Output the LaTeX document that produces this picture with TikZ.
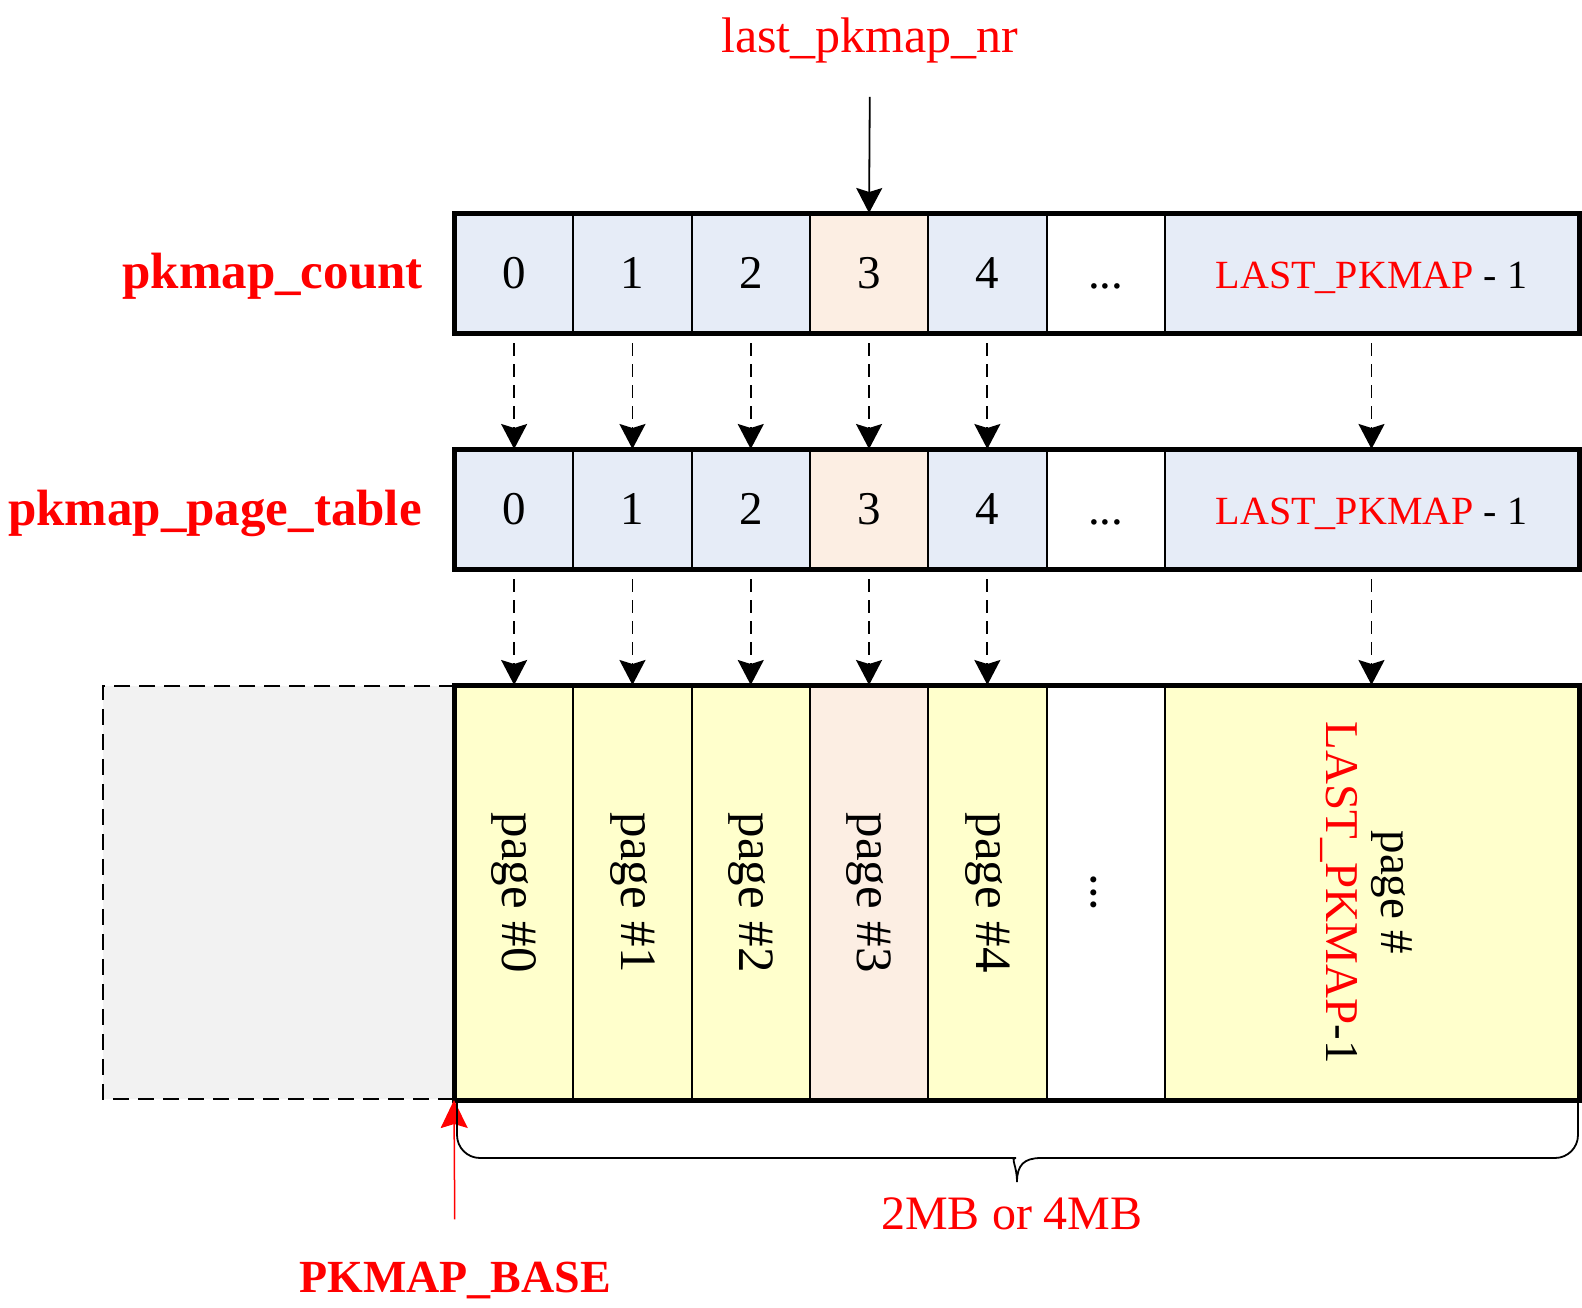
\documentclass[tikz,border=0pt]{standalone}
\usepackage{fontspec}
\setmainfont{Liberation Serif}
\usetikzlibrary{arrows.meta}

\definecolor{celdaazul}{HTML}{E6ECF7}
\definecolor{celdanaranja}{HTML}{FCEEE3}
\definecolor{celdaamarilla}{HTML}{FFFFCC}
\definecolor{zonagris}{HTML}{F2F2F2}

\begin{document}
\begin{tikzpicture}[x=1pt,y=-1pt,
    celda/.style={draw, line width=2pt, minimum width=118.3pt, minimum height=118pt,
        inner sep=0pt, text height=31pt, text depth=0pt, font=\fontsize{47}{55}\selectfont},
    pagina/.style={draw, line width=2pt, minimum width=118.3pt, minimum height=413pt, inner sep=0pt},
    vtexto/.style={rotate=-90, inner sep=0pt, align=center, font=\fontsize{51}{56}\selectfont},
    rotulo/.style={inner sep=0pt, text=red, font=\bfseries\fontsize{51}{60}\selectfont},
    punta/.style={-{Stealth[length=25pt,width=26pt,inset=4pt]}},
    flechapunteada/.style={punta, dash pattern=on 13pt off 8pt, line width=1.8pt, shorten <=10pt}]

    \useasboundingbox (0,0) rectangle (1582,1307);

    % Filas pkmap_count y pkmap_page_table
    \foreach \i/\col in {0/celdaazul,1/celdaazul,2/celdaazul,3/celdanaranja,4/celdaazul} {
        \node[celda, fill=\col] (c\i) at ({514.15+118.3*\i},273) {\i};
        \node[celda, fill=\col] (m\i) at ({514.15+118.3*\i},509) {\i};
    }
    \node[celda, fill=white] (c5) at (1105.65,273) {...};
    \node[celda, fill=white] (m5) at (1105.65,509) {...};
    \node[celda, fill=celdaazul, minimum width=413pt] (cl) at (1371.5,273)
        {\fontsize{40}{48}\selectfont\textcolor{red}{LAST\_PKMAP} - 1};
    \node[celda, fill=celdaazul, minimum width=413pt] (ml) at (1371.5,509)
        {\fontsize{40}{48}\selectfont\textcolor{red}{LAST\_PKMAP} - 1};

    % Zona gris a la izquierda
    \fill[zonagris] (103,686) rectangle (455,1099);
    \draw[dash pattern=on 16pt off 9pt, line width=1.8pt] (455,686) -- (103,686) -- (103,1099) -- (455,1099);

    % Paginas
    \foreach \i/\col in {0/celdaamarilla,1/celdaamarilla,2/celdaamarilla,3/celdanaranja,4/celdaamarilla} {
        \node[pagina, fill=\col] (b\i) at ({514.15+118.3*\i},892.5) {};
        \node[vtexto] (t\i) at (b\i) {page \#\i};
    }
    \node[pagina, fill=white] (b5) at (1105.65,892.5) {};
    \node[vtexto] (t5) at (1094,892.5) {...};
    \node[pagina, fill=celdaamarilla, minimum width=413pt] (bl) at (1371.5,892.5) {};
    \node[vtexto, font=\fontsize{47}{55}\selectfont] (tl) at (1366,892.5) {page \#\\\textcolor{red}{LAST\_PKMAP}-1};

    % Bordes gruesos
    \draw[line width=5pt] (c0.north west) rectangle (cl.south east);
    \draw[line width=5pt] (m0.north west) rectangle (ml.south east);
    \draw[line width=5pt] (b0.north west) rectangle (bl.south east);

    % Flechas punteadas
    \foreach \i in {0,1,2,3,4,l} {
        \draw[flechapunteada] (c\i.south) -- (m\i.north);
        \draw[flechapunteada] (m\i.south) -- (b\i.north);
    }

    % Etiquetas
    \node[rotulo, anchor=base east] (lcount) at (423,288) {pkmap\_count};
    \node[rotulo, anchor=base east] (ltable) at (422,525) {pkmap\_page\_table};
    \node[inner sep=0pt, text=red, anchor=base, font=\fontsize{50}{60}\selectfont] (lnr) at (870,52) {last\_pkmap\_nr};
    \draw[punta, line width=1.8pt, shorten <=34pt] (lnr.south) -- (c3.north);

    % Base y llave
    \node[rotulo, anchor=base, font=\bfseries\fontsize{46}{56}\selectfont] (base) at (455,1292) {PKMAP\_BASE};
    \draw[red, line width=1.5pt, -{Stealth[length=28pt,width=27pt,inset=4pt]}, shorten <=42pt] (base.north) -- (b0.south west);
    \draw[line width=1.8pt] (457,1101) {[rounded corners=23pt] -- (457,1158) -- (993,1158)}
        .. controls (1010,1158) and (1017,1165) .. (1017,1182)
        .. controls (1017,1165) and (1024,1158) .. (1041,1158)
        {[rounded corners=23pt] -- (1578,1158) -- (1578,1101)};
    \node[inner sep=0pt, text=red, anchor=base, font=\fontsize{48}{58}\selectfont] (tam) at (1012,1229) {2MB or 4MB};
\end{tikzpicture}
\end{document}
